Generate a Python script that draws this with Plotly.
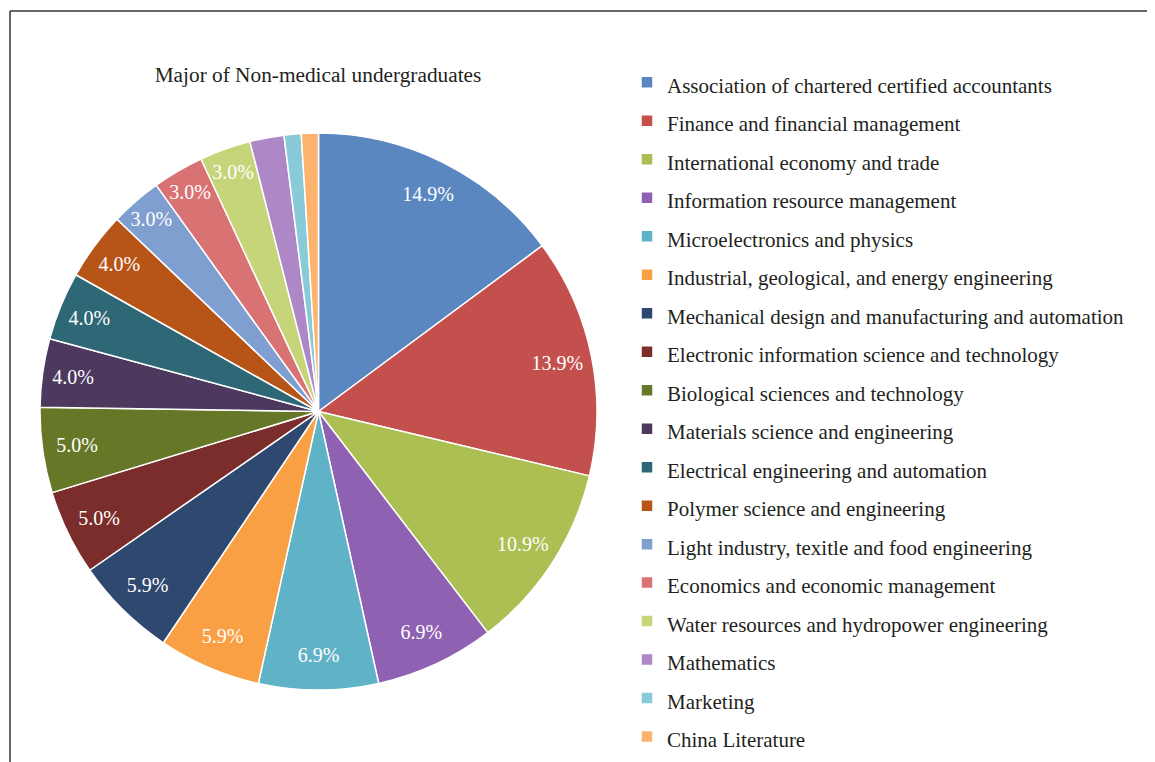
import plotly.graph_objects as go

categories = [
    "Association of chartered certified accountants",
    "Finance and financial management",
    "International economy and trade",
    "Information resource management",
    "Microelectronics and physics",
    "Industrial, geological, and energy engineering",
    "Mechanical design and manufacturing and automation",
    "Electronic information science and technology",
    "Biological sciences and technology",
    "Materials science and engineering",
    "Electrical engineering and automation",
    "Polymer science and engineering",
    "Light industry, texitle and food engineering",
    "Economics and economic management",
    "Water resources and hydropower engineering",
    "Mathematics",
    "Marketing",
    "China Literature",
]
counts = [15, 14, 11, 7, 7, 6, 6, 5, 5, 4, 4, 4, 3, 3, 3, 2, 1, 1]
colors = [
    "#5B87C1", "#C4504D", "#ABBF52", "#8F61B2", "#60B2C6", "#F9A044",
    "#2F486F", "#7A2D2A", "#667828", "#4D385E", "#2E6775", "#B75417",
    "#7F9FD0", "#D87273", "#C6D47A", "#AE87C7", "#88CAD8", "#FDB36E",
]
label_min_count = 3

total = sum(counts)
texts = [f"{c / total * 100:.1f}%" if c >= label_min_count else "" for c in counts]

W, H = 1155, 762
OFF = 8  # page body margin offset of the figure inside the window
serif = "Liberation Serif, Times New Roman, serif"

def px_x(x):
    return (x - OFF) / W

def px_y(y):
    return 1 - (y - OFF) / H

pie_domain = dict(x=[px_x(40), px_x(597)], y=[px_y(690), px_y(133)])

fig = go.Figure()
# coloured slices
fig.add_trace(go.Pie(
    labels=[f"<span style='font-size:21px'>{c}</span>" for c in categories],
    values=counts,
    textinfo="none",
    sort=False,
    direction="clockwise",
    rotation=0,
    marker=dict(colors=colors, line=dict(color="white", width=1.5)),
    domain=pie_domain,
    hoverinfo="label+percent",
))
# percentage labels placed in the outer ring of the same slices
fig.add_trace(go.Pie(
    labels=categories,
    values=counts,
    text=texts,
    textinfo="text",
    textposition="inside",
    insidetextorientation="horizontal",
    insidetextfont=dict(family=serif, size=20, color="white"),
    hole=0.75,
    sort=False,
    direction="clockwise",
    rotation=0,
    marker=dict(colors=["rgba(0,0,0,0)"] * len(counts), line=dict(width=0)),
    domain=pie_domain,
    showlegend=False,
    hoverinfo="skip",
))

fig.update_layout(
    width=W, height=H,
    margin=dict(l=0, r=0, t=0, b=0),
    paper_bgcolor="white",
    plot_bgcolor="white",
    uniformtext=dict(minsize=20, mode="show"),
    title=dict(
        text="Major of Non-medical undergraduates",
        x=px_x(318), xanchor="center",
        y=px_y(75), yanchor="middle",
        font=dict(family=serif, size=21.3, color="#231F20"),
    ),
    legend=dict(
        x=px_x(627), xanchor="left",
        y=px_y(58), yanchor="top",
        font=dict(family=serif, size=27.3, color="#231F20"),
        bgcolor="rgba(0,0,0,0)",
        itemclick=False,
    ),
    showlegend=True,
    shapes=[
        dict(type="line", xref="paper", yref="paper", x0=px_x(10), x1=1.0, y0=px_y(11), y1=px_y(11),
             line=dict(color="#333333", width=1.5)),
        dict(type="line", xref="paper", yref="paper", x0=px_x(10), x1=px_x(10), y0=0, y1=px_y(11),
             line=dict(color="#333333", width=1.5)),
    ],
)

fig.write_html("out.html")
